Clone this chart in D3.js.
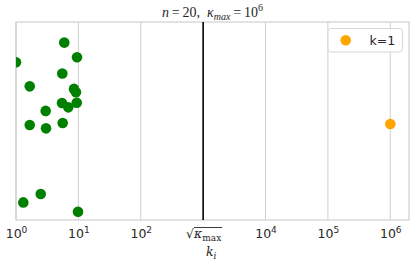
<!DOCTYPE html>
<html>
<head>
<meta charset="utf-8">
<script src="https://cdn.jsdelivr.net/npm/d3@7"></script>
<style>
  body { margin: 0; background: #fff; }
  svg { display: block; }
</style>
</head>
<body>
<svg id="chart" width="414" height="263"></svg>
<script>
// k_i values (log x) and vertical jitter for the n-1 green points
const greenK = [5.94, 9.5, 1.0, 5.52, 1.66, 8.5, 9.15, 5.46, 6.89, 9.4,
                2.99, 1.66, 3.03, 5.6, 1.31, 2.49, 9.86];
const greenY = [0.896, 0.822, 0.797, 0.740, 0.675, 0.662, 0.645, 0.591, 0.569, 0.592,
                0.551, 0.480, 0.463, 0.490, 0.089, 0.131, 0.042];
// the single k=1 point
const orangeK = [1e6];
const orangeY = [0.485];
const tickVals = [1, 10, 100, 1000, 1e4, 1e5, 1e6];
const tickExp = ["0", "1", "2", null, "4", "5", "6"];
const kappaMax = 1e6;

const width = 414, height = 263;
const margin = {top: 22, right: 5, bottom: 43, left: 16};

const svg = d3.select('#chart');

const x = d3.scaleLog()
    .domain([1, Math.pow(10, 6.3)])
    .range([margin.left, width - margin.right]);

const y = d3.scaleLinear()
    .domain([0, 1])
    .range([height - margin.bottom, margin.top]);

const gridColor = '#cfcfcf';

svg.append('defs').append('clipPath').attr('id', 'plot-clip')
    .append('rect')
    .attr('x', margin.left).attr('y', margin.top)
    .attr('width', width - margin.left - margin.right)
    .attr('height', height - margin.top - margin.bottom);

// vertical grid
svg.append('g')
    .selectAll('line')
    .data(tickVals.filter(d => d != Math.sqrt(kappaMax)))
    .enter().append('line')
    .attr('x1', d => x(d)).attr('x2', d => x(d))
    .attr('y1', margin.top).attr('y2', height - margin.bottom)
    .style('stroke', gridColor)
    .style('stroke-width', 1);

// frame
svg.append('rect')
    .attr('x', margin.left).attr('y', margin.top)
    .attr('width', width - margin.left - margin.right)
    .attr('height', height - margin.top - margin.bottom)
    .style('fill', 'none')
    .style('stroke', gridColor)
    .style('stroke-width', 1.2);

// sqrt(kappa_max) line
svg.append('line')
    .attr('x1', x(Math.sqrt(kappaMax))).attr('x2', x(Math.sqrt(kappaMax)))
    .attr('y1', margin.top).attr('y2', height - margin.bottom)
    .style('stroke', 'black')
    .style('stroke-width', 1.6);

// x axis
const xAxis = d3.axisBottom(x)
    .tickValues(tickVals)
    .tickSize(0)
    .tickPadding(0)
    .tickFormat(() => '');

const axisG = svg.append('g')
    .attr('transform', 'translate(0,' + (height - margin.bottom) + ')')
    .call(xAxis);
axisG.select('.domain').remove();

axisG.selectAll('.tick').each(function(d, i){
    let t = d3.select(this).select('text')
        .attr('y', 18)
        .attr('dy', null)
        .style('font-family', 'DejaVu Sans')
        .style('font-size', '12.5px')
        .style('fill', '#262626');
    if(tickExp[i] !== null)
    {
        t.append('tspan').text('10');
        t.append('tspan').attr('dy', -5).style('font-size', '9px').text(tickExp[i]);
    }
    else
    {
        t.attr('class', 'sqrt-label')
            .style('font-family', 'DejaVu Serif');
        t.append('tspan').text('\u221A');
        t.append('tspan').style('font-style', 'italic').text('\u03BA');
        t.append('tspan').attr('dy', 3).style('font-size', '9px').text('max');
    }
});

// overline of the radical
const sq = axisG.select('.sqrt-label').node();
if(sq)
{
    const bb = sq.getBBox();
    const tr = sq.parentNode.getAttribute('transform');
    axisG.append('line')
        .attr('transform', tr)
        .attr('x1', bb.x + 8).attr('x2', bb.x + bb.width + 1)
        .attr('y1', bb.y + 1.5).attr('y2', bb.y + 1.5)
        .style('stroke', '#262626')
        .style('stroke-width', 0.9);
}

// x label
const xl = svg.append('text')
    .attr('x', x(Math.sqrt(kappaMax)) + 8)
    .attr('y', 256)
    .attr('text-anchor', 'middle')
    .style('font-family', 'DejaVu Serif')
    .style('font-size', '12.5px')
    .style('fill', '#262626');
xl.append('tspan').style('font-style', 'italic').text('k');
xl.append('tspan').attr('dy', 3).style('font-size', '9px').style('font-style', 'italic').text('i');

// title
const title = svg.append('text')
    .attr('x', (margin.left + width - margin.right) / 2)
    .attr('y', 17)
    .attr('text-anchor', 'middle')
    .style('font-family', 'Liberation Serif')
    .style('font-size', '14px')
    .style('fill', '#262626');
title.append('tspan').style('font-style', 'italic').text('n');
title.append('tspan').text('\u2009=\u200920,\u2002');
title.append('tspan').style('font-style', 'italic').text('\u03BA');
title.append('tspan').attr('dy', 3).style('font-style', 'italic').style('font-size', '10px').text('max');
title.append('tspan').attr('dy', -3).text('\u2009=\u200910');
title.append('tspan').attr('dy', -6).style('font-size', '10px').text('6');

// points
const pts = svg.append('g').attr('clip-path', 'url(#plot-clip)');

pts.selectAll('circle.green')
    .data(greenK.map((k, i) => ({k: k, v: greenY[i]})))
    .enter().append('circle')
    .attr('class', 'green')
    .attr('cx', d => x(d.k))
    .attr('cy', d => y(d.v))
    .attr('r', 5.3)
    .style('fill', 'green');

pts.selectAll('circle.orange')
    .data(orangeK.map((k, i) => ({k: k, v: orangeY[i]})))
    .enter().append('circle')
    .attr('class', 'orange')
    .attr('cx', d => x(d.k))
    .attr('cy', d => y(d.v))
    .attr('r', 5.3)
    .style('fill', 'orange');

// legend
const lg = svg.append('g').attr('transform', 'translate(328,28.5)');
lg.append('rect')
    .attr('width', 74.5).attr('height', 23.5)
    .attr('rx', 3)
    .style('fill', 'white')
    .style('fill-opacity', 0.85)
    .style('stroke', '#d6d6d6')
    .style('stroke-width', 1);
lg.append('circle')
    .attr('cx', 17.7).attr('cy', 11.8).attr('r', 5.3)
    .style('fill', 'orange');
lg.append('text')
    .attr('x', 41.5).attr('y', 16.3)
    .style('font-family', 'DejaVu Sans')
    .style('font-size', '12.5px')
    .style('fill', '#262626')
    .text('k=1');
</script>
</body>
</html>
